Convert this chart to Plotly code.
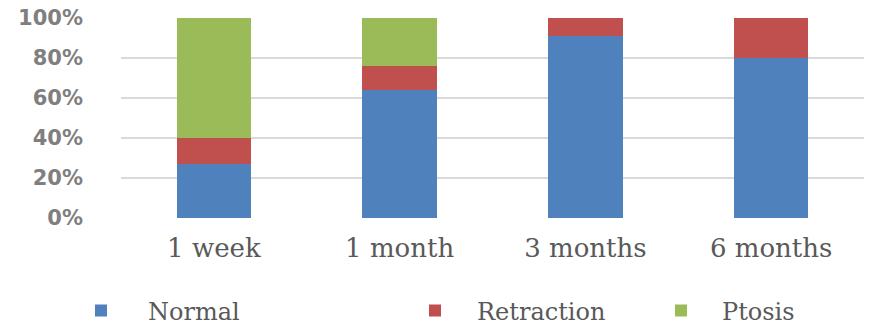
import plotly.graph_objects as go

categories = ["1 week", "1 month", "3 months", "6 months"]
normal = [27, 64, 91, 80]
retraction = [13, 12, 9, 20]
ptosis = [60, 24, 0, 0]
y_ticks = [0, 20, 40, 60, 80, 100]
y_tick_labels = ["0%", "20%", "40%", "60%", "80%", "100%"]

series = [
    ("Normal", normal, "#4F81BD", "legend"),
    ("Retraction", retraction, "#C0504D", "legend2"),
    ("Ptosis", ptosis, "#9BBB59", "legend3"),
]

fig = go.Figure()
for name, vals, color, lg in series:
    fig.add_trace(go.Bar(
        x=categories, y=vals, name=name, marker=dict(color=color, line=dict(width=0)),
        legend=lg, showlegend=True,
    ))

W, H = 889, 328
legend_font = dict(family="DejaVu Serif", size=24, color="#595959")
def leg(xpx, iw):
    return dict(x=xpx / W, xref="container", xanchor="left",
                y=17 / H, yref="container", yanchor="middle",
                orientation="h", font=legend_font, bgcolor="rgba(0,0,0,0)",
                borderwidth=0, itemwidth=iw, visible=True)

fig.update_layout(
    width=W, height=H,
    barmode="stack", bargap=0.6,
    paper_bgcolor="white", plot_bgcolor="white",
    margin=dict(l=121, r=25, t=18, b=110),
    showlegend=True,
    legend=leg(54, 84), legend2=leg(393, 74), legend3=leg(640, 72),
    xaxis=dict(
        showgrid=False, showline=False, ticks="", automargin=False,
        tickfont=dict(family="DejaVu Serif", size=26, color="#595959"),
        ticklabelstandoff=12,
    ),
    yaxis=dict(
        range=[0, 100], tickvals=y_ticks, ticktext=y_tick_labels,
        showgrid=True, gridcolor="#D9D9D9", gridwidth=1.5, automargin=False,
        zeroline=False, showline=False, ticks="",
        tickfont=dict(family="DejaVu Sans", size=21, color="#7F7F7F", weight="bold"),
        ticklabelstandoff=37,
    ),
)

fig.write_html("out.html")
